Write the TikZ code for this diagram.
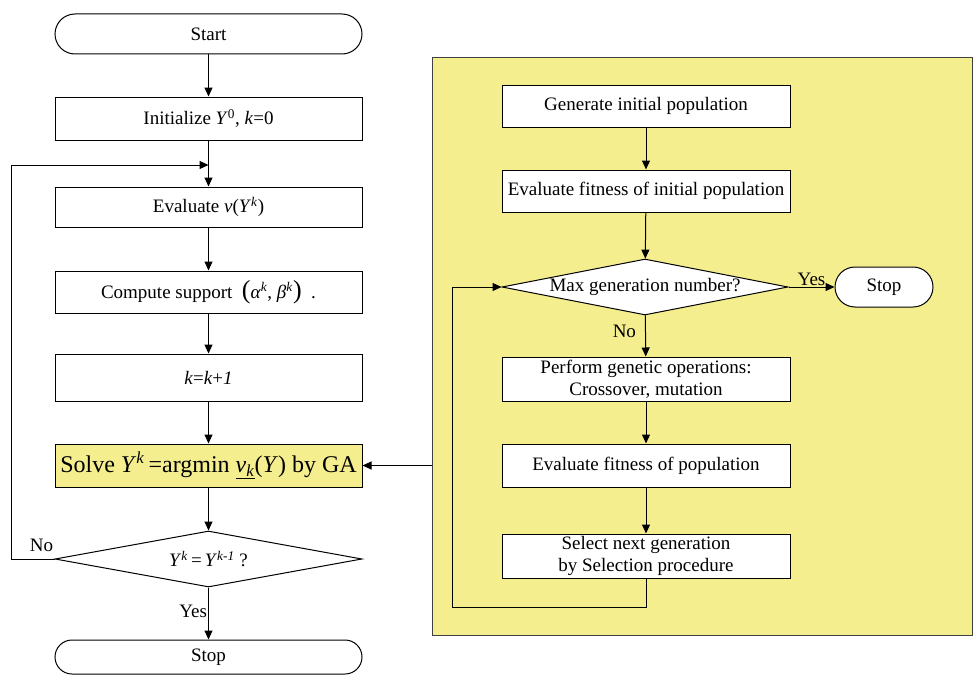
\documentclass[tikz,border=0pt]{standalone}
\usepackage{fontspec}
\setmainfont{Liberation Serif}
\usetikzlibrary{arrows.meta, shapes.geometric}
\definecolor{gapanel}{RGB}{244,238,143}

\begin{document}
\begin{tikzpicture}[x=1pt, y=-1pt,
  every node/.style={font=\fontsize{19}{22}\selectfont},
  box/.style={draw, line width=1pt, fill=white, minimum width=307pt, minimum height=42pt, inner sep=2pt, align=center},
  gabox/.style={box, minimum width=288pt},
  term/.style={box, minimum height=40pt, rounded corners=20pt},
  decide/.style={draw, line width=1pt, fill=white, diamond, aspect=5, inner sep=0pt, minimum width=307pt, minimum height=56pt},
  flow/.style={line width=1pt, -{Triangle[length=9pt, width=8pt]}},
  lbl/.style={inner sep=1pt}]
\useasboundingbox (0,0) rectangle (974,677);

% GA panel
\node[draw=black!75, line width=1pt, fill=gapanel, minimum width=540pt, minimum height=577pt, inner sep=0pt] (panel) at (702,346.5) {};

% Main loop
\node[term] (start) at (208.5,34) {Start};
\node[box, minimum height=43pt] (init) at (208.5,118.5) {Initialize \textit{Y}\textsuperscript{0}, \textit{k}=0};
\node[box, minimum height=40pt] (eval) at (208.5,207) {Evaluate \textit{v}(\textit{Y}\textsuperscript{\textit{k}})};
\node[box] (supp) at (208.5,292) {Compute support \ {\fontsize{26}{26}\selectfont(}\textit{α}\textsuperscript{\textit{k}}, \textit{β}\textsuperscript{\textit{k}}{\fontsize{26}{26}\selectfont)} \ .};
\node[box, minimum height=47pt] (inc) at (208.5,377.5) {\textit{k}=\textit{k}+\textit{1}};
\node[box, fill=gapanel, minimum height=43pt, inner sep=1pt, font=\fontsize{24}{28}\selectfont] (solve) at (208.5,465.5) {Solve \textit{Y}\textsuperscript{\textit{k}}\,=argmin \underline{\textit{v}\textsubscript{\textit{k}}}(\textit{Y}) by GA};
\node[decide] (conv) at (208.5,559) {\textit{Y}\textsuperscript{\textit{k}}\,=\,\textit{Y}\textsuperscript{\textit{k-1}} ?};
\node[term, minimum height=34pt, rounded corners=17pt] (stop) at (208.5,657) {Stop};

% GA steps
\node[gabox] (gen) at (646,106) {Generate initial population};
\node[gabox] (fitinit) at (646,191) {Evaluate fitness of initial population};
\node[decide, minimum width=286pt] (maxgen) at (645,287) {Max generation number?};
\node[term, minimum width=98pt] (stopga) at (884,287) {Stop};
\node[gabox, minimum height=44pt, inner sep=0pt] (oper) at (646,379) {Perform genetic operations:\\Crossover, mutation};
\node[gabox, minimum height=43pt] (fitpop) at (646,465.5) {Evaluate fitness of population};
\node[gabox, minimum height=44pt, inner sep=0pt] (select) at (646,556) {Select next generation\\by Selection procedure};

% Connectors, main loop
\coordinate (join) at (208.5,165);
\draw[flow] (start) -- (init);
\draw[line width=1pt] (init) -- (join);
\draw[flow] (join) -- (eval);
\draw[flow] (eval) -- (supp);
\draw[flow] (supp) -- (inc);
\draw[flow] (inc) -- (solve);
\draw[flow] (solve) -- (conv);
\draw[flow] (conv) -- node[lbl, left, pos=0.45] {Yes} (stop);
\draw[flow] (conv.west) -- node[lbl, above=6pt, pos=0.3] {No} ++(-43,0) |- (join);

% Connectors, GA
\draw[flow] (gen) -- (fitinit);
\draw[flow] (fitinit) -- (maxgen);
\draw[flow] (maxgen) -- node[lbl, above, pos=0.5] {Yes} (stopga);
\draw[flow] (maxgen) -- node[lbl, left, pos=0.4, xshift=-8pt] {No} (oper);
\draw[flow] (oper) -- (fitpop);
\draw[flow] (fitpop) -- (select);
\draw[flow] (select.south) -- ++(0,29) -| ([xshift=-49pt]maxgen.west) -- (maxgen.west);
\draw[flow] (panel.west |- solve.east) -- (solve.east);

\end{tikzpicture}
\end{document}
